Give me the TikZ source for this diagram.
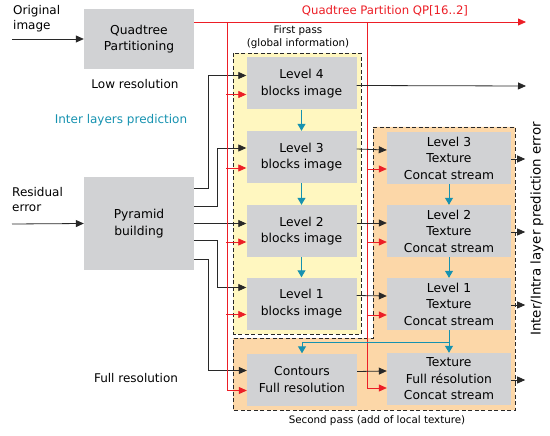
\documentclass[tikz,border=0pt]{standalone}
\usepackage{fontspec}
\setmainfont{DejaVu Sans}
\usetikzlibrary{arrows.meta}

\definecolor{boxgray}{RGB}{209,210,212}
\definecolor{passyellow}{RGB}{255,247,192}
\definecolor{passorange}{RGB}{252,215,168}
\definecolor{qpred}{RGB}{236,30,38}
\definecolor{tealc}{RGB}{22,146,176}
\definecolor{darkline}{RGB}{40,40,40}

\begin{document}
\begin{tikzpicture}[
                    x=1pt, y=-1pt,
                    >={Triangle[length=8pt,width=7pt]},
                    block/.style={
                        fill=boxgray,
                        minimum width=110pt,
                        minimum height=52pt,
                        inner sep=2pt,
                        align=center,
                        font=\fontsize{12.3}{16.5}\selectfont
                    },
                    texblock/.style={block, minimum width=124pt},
                    lbl/.style={font=\fontsize{12}{15}\selectfont, inner sep=0pt},
                    smalllbl/.style={font=\fontsize{10.3}{13.5}\selectfont, inner sep=0pt, align=center},
                    passbox/.style={draw=darkline, dash pattern=on 4pt off 2.5pt},
                    arr/.style={->, draw=darkline, line width=0.8pt},
                    redarr/.style={->, draw=qpred, line width=0.8pt},
                    tealarr/.style={->, draw=tealc, line width=1pt,
                        >={Triangle[length=7pt,width=8pt]}}
                ]
                    \useasboundingbox (0,0) rectangle (550,436);

                    % Passes
                    \draw[passbox, fill=passyellow] (233,53) rectangle (361,334);
                    \draw[passbox, fill=passorange] (373,127) -- (515,127) -- (515,410)
                        -- (233,410) -- (233,338) -- (373,338) -- cycle;

                    % Blocks
                    \node[block, minimum height=60pt] (quad) at (139,39) {Quadtree\\Partitioning};
                    \node[block, minimum height=93pt] (pyr) at (139,223.5) {Pyramid\\building};
                    \node[block] (lvl4) at (301.5,83.5) {Level 4\\blocks image};
                    \node[block] (lvl3) at (301.5,157) {Level 3\\blocks image};
                    \node[block] (lvl2) at (301.5,231) {Level 2\\blocks image};
                    \node[block] (lvl1) at (301.5,303.5) {Level 1\\blocks image};
                    \node[block] (cont) at (302,379.5) {Contours\\Full resolution};
                    \node[texblock] (tex3) at (449,158) {Level 3\\Texture\\Concat stream};
                    \node[texblock] (tex2) at (449,231) {Level 2\\Texture\\Concat stream};
                    \node[texblock] (tex1) at (449,304) {Level 1\\Texture\\Concat stream};
                    \node[texblock] (texf) at (449,379) {Texture\\Full résolution\\Concat stream};

                    % Labels
                    \node[lbl, align=left, anchor=west] (origtxt) at (13,19) {Original\\image};
                    \node[lbl, align=left, anchor=west] (residtxt) at (12,200) {Residual\\error};
                    \node[lbl] (lowres) at (135,84) {Low resolution};
                    \node[lbl, text=tealc] (interpred) at (121,120) {Inter layers prediction};
                    \node[lbl] (fullres) at (136,378) {Full resolution};
                    \node[smalllbl] (firstpass) at (298,37) {First pass\\(global information)};
                    \node[smalllbl] (secondpass) at (377,421) {Second pass (add of local texture)};
                    \node[lbl, font=\fontsize{11.7}{14}\selectfont, text=qpred] (qptxt) at (385,11) {Quadtree Partition QP[16..2]};
                    \node[lbl, font=\fontsize{13.4}{15}\selectfont, rotate=90] (errtxt) at (537,229) {Inter/Intra layer prediction error};

                    \coordinate (orig) at (12,39);
                    \coordinate (resid) at (12,224);
                    \coordinate (qpend) at (526,22);
                    \coordinate (ra) at (227,22);
                    \coordinate (rb) at (367,22);
                    \coordinate (out4) at (526,86);

                    % Edges
                    \draw[arr] (orig) -- (quad.west);
                    \draw[arr] (resid) -- (pyr.west);

                    \draw[arr] ([yshift=35pt]pyr.east) -- ++(14,0) |- ([yshift=8pt]lvl4.west);
                    \draw[arr] ([yshift=17pt]pyr.east) -- ++(23,0) |- ([yshift=9pt]lvl3.west);
                    \draw[arr] (pyr.east) -- (pyr.east -| lvl2.west);
                    \draw[arr] ([yshift=-17pt]pyr.east) -- ++(23,0) |- ([yshift=16pt]lvl1.west);
                    \draw[arr] ([yshift=-36pt]pyr.east) -- ++(14,0) |- ([yshift=9pt]cont.west);

                    \draw[redarr] ([yshift=17pt]quad.east) -- (qpend);
                    \draw[redarr] (ra) |- ([yshift=-11pt]cont.west);
                    \draw[redarr] (rb) |- ([yshift=-9pt]texf.west);
                    \foreach \n in {lvl4,lvl3,lvl2,lvl1,tex3,tex2,tex1}
                        \draw[redarr] ([yshift=-11pt]\n.west) ++(-20,0) -- ++(20,0);

                    \draw[arr] ([yshift=-2pt]lvl4.east) -- (out4);
                    \foreach \n/\m in {lvl3/tex3,lvl2/tex2,lvl1/tex1,cont/texf}
                        \draw[arr] ([yshift=8pt]\n.east) -- ([yshift=8pt]\m.west);
                    \foreach \n in {tex3,tex2,tex1,texf}
                        \draw[arr] ([yshift=-1pt]\n.east) -- ++(14,0);

                    \draw[tealarr] (lvl4) -- (lvl3);
                    \draw[tealarr] (lvl3) -- (lvl2);
                    \draw[tealarr] (lvl2) -- (lvl1);
                    \draw[tealarr] (tex3) -- (tex2);
                    \draw[tealarr] (tex2) -- (tex1);
                    \draw[tealarr] (tex1) -- (texf);
                    \draw[tealarr] (tex1.south) -- ++(0,12) -| (cont.north);
                \end{tikzpicture}
\end{document}
